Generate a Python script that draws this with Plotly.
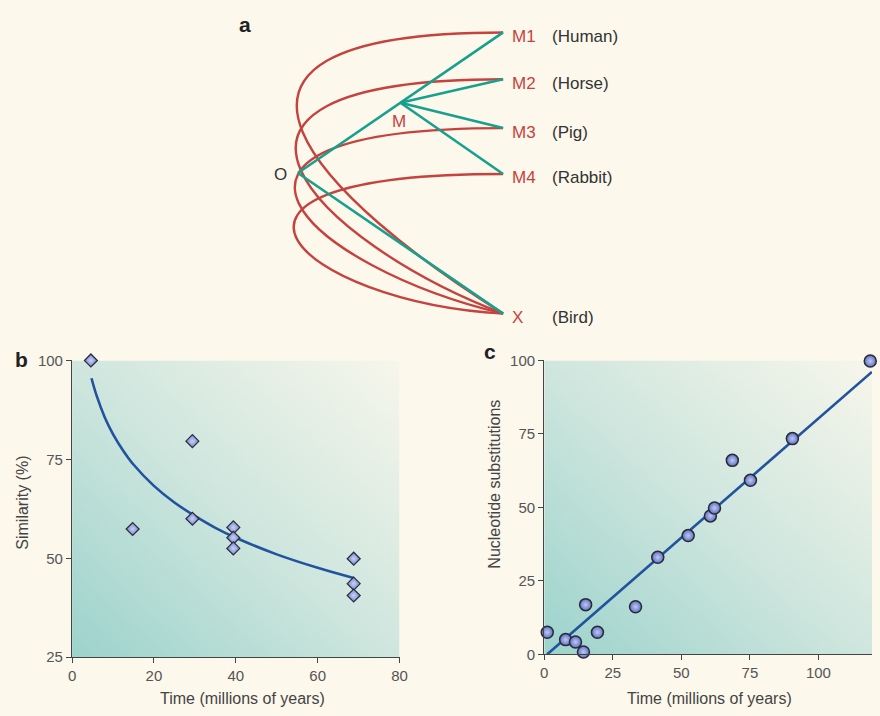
import base64
import plotly.graph_objects as go

W, H = 880, 716

# ---------------- data ----------------
# panel b: similarity vs time
b_time = [4.6, 14.8, 29.4, 29.4, 39.4, 39.4, 39.4, 68.8, 68.8, 68.8]
b_sim = [100.0, 57.4, 79.6, 60.0, 57.8, 55.2, 52.5, 49.9, 43.6, 40.6]
# fitted curve
b_fit_time = [4.75, 6, 8, 10, 12.5, 15, 20, 25, 30, 35, 40, 50, 60, 68.8]
b_fit_sim = [95.5, 91.1, 85.6, 81.4, 77.2, 73.7, 68.3, 64.1, 60.7, 57.7, 55.2, 51.0, 47.6, 45.0]

# panel c: nucleotide substitutions vs time
c_time = [1.1, 7.8, 11.4, 14.3, 15.1, 19.4, 33.3, 41.4, 52.5, 60.6, 62.1, 68.6, 75.2, 90.5, 118.9]
c_subs = [7.5, 5.0, 4.2, 0.8, 16.9, 7.5, 16.2, 33.0, 40.4, 47.1, 49.8, 66.0, 59.2, 73.4, 99.8]
c_fit_time = [1.1, 119.5]
c_fit_subs = [0.0, 96.1]

b_xticks = [0, 20, 40, 60, 80]
b_yticks = [25, 50, 75, 100]
c_xticks = [0, 25, 50, 75, 100]
c_yticks = [0, 25, 50, 75, 100]

# panel a: diagram nodes (diagram units)
node_O = (298, 168)
node_M = (402, 96)
node_X = (506, 312)
tip_x = 506
tip_y = [24, 72, 122, 169]
tip_labels = ["M1", "M2", "M3", "M4"]
tip_species = ["(Human)", "(Horse)", "(Pig)", "(Rabbit)"]
# red path control points (one per tip)
curve_c1x = [140, 145, 150, 155]
curve_c2 = [(330, 200), (320, 240), (310, 265), (300, 300)]

# ---------------- styles ----------------
CREAM = "#fdf8ec"
RED = "#c5433e"
TEAL = "#17a08d"
BLUE = "#22539e"
AXC = "#444444"
TXT = "#555555"
FONT = "Liberation Sans, Arial, sans-serif"


def px(x):
    return x / W


def py(y):
    return 1 - y / H


b_dom_x = [px(69), px(401)]
b_dom_y = [py(664), py(360)]
c_dom_x = [px(547.7), 1.0]
c_dom_y = [py(661), py(360)]
c_xmax = (W - 547.7) / 2.78

fig = go.Figure()

# panel a teal lines
tx, ty = [], []
segs = [(node_O, (tip_x, tip_y[0])), (node_M, (tip_x, tip_y[1])),
        (node_M, (tip_x, tip_y[2])), (node_M, (tip_x, tip_y[3])), (node_O, node_X)]
for a, b in segs:
    tx += [a[0], b[0], None]
    ty += [a[1], b[1], None]
fig.add_trace(go.Scatter(x=tx, y=ty, mode="lines", xaxis="x3", yaxis="y3",
                         line=dict(color=TEAL, width=2.6), hoverinfo="skip", showlegend=False))

# panel b
fig.add_trace(go.Scatter(x=b_fit_time, y=b_fit_sim, mode="lines", line=dict(color=BLUE, width=2.6, shape="spline"),
                         xaxis="x", yaxis="y", showlegend=False, hoverinfo="skip"))
fig.add_trace(go.Scatter(x=b_time, y=b_sim, mode="markers", xaxis="x", yaxis="y", showlegend=False,
                         cliponaxis=False,
                         marker=dict(symbol="diamond", size=10, color="#6f82cc",
                                     gradient=dict(type="radial", color="#c9d2f6"),
                                     line=dict(color="#2c2c38", width=1.2))))

# panel c
fig.add_trace(go.Scatter(x=c_fit_time, y=c_fit_subs, mode="lines", line=dict(color=BLUE, width=2.6),
                         xaxis="x2", yaxis="y2", showlegend=False, hoverinfo="skip"))
fig.add_trace(go.Scatter(x=c_time, y=c_subs, mode="markers", xaxis="x2", yaxis="y2", showlegend=False,
                         cliponaxis=False,
                         marker=dict(symbol="circle", size=12, color="#5e71c2",
                                     gradient=dict(type="radial", color="#bfcaf4"),
                                     line=dict(color="#2a2a36", width=1.5))))

# red curves
shapes = []
for i, y0 in enumerate(tip_y):
    c2x, c2y = curve_c2[i]
    path = f"M {tip_x},{y0} C {curve_c1x[i]},{y0} {c2x},{c2y} {node_X[0]},{node_X[1]}"
    shapes.append(dict(type="path", path=path, xref="x3", yref="y3",
                       line=dict(color=RED, width=2.4), layer="below"))

# gradient backgrounds
svg = ('<svg xmlns="http://www.w3.org/2000/svg" width="100" height="100" viewBox="0 0 100 100" '
       'preserveAspectRatio="none"><defs><linearGradient id="g" x1="0" y1="1" x2="1" y2="0">'
       '<stop offset="0" stop-color="#9cd3cc"/><stop offset="0.5" stop-color="#cfe6de"/>'
       '<stop offset="1" stop-color="#f7f6eb"/></linearGradient></defs>'
       '<rect width="100" height="100" fill="url(#g)"/></svg>')
src = "data:image/svg+xml;base64," + base64.b64encode(svg.encode()).decode()
images = []
for dx, dy in [(b_dom_x, b_dom_y), (c_dom_x, c_dom_y)]:
    images.append(dict(source=src, xref="paper", yref="paper", x=dx[0], y=dy[1],
                       sizex=dx[1] - dx[0], sizey=dy[1] - dy[0], sizing="stretch",
                       xanchor="left", yanchor="top", layer="below"))

ann = []
# panel a labels
for i, y0 in enumerate(tip_y):
    ann.append(dict(x=513, y=y0 + 4, xref="x3", yref="y3", text=tip_labels[i], showarrow=False,
                    xanchor="left", yanchor="middle", font=dict(size=17, color=RED, family=FONT)))
    ann.append(dict(x=554, y=y0 + 4, xref="x3", yref="y3", text=tip_species[i], showarrow=False,
                    xanchor="left", yanchor="middle", font=dict(size=17, color="#333333", family=FONT)))
ann.append(dict(x=513, y=node_X[1] + 4, xref="x3", yref="y3", text="X", showarrow=False,
                xanchor="left", yanchor="middle", font=dict(size=17, color=RED, family=FONT)))
ann.append(dict(x=554, y=node_X[1] + 4, xref="x3", yref="y3", text="(Bird)", showarrow=False,
                xanchor="left", yanchor="middle", font=dict(size=17, color="#333333", family=FONT)))
ann.append(dict(x=node_M[0] - 2, y=node_M[1] + 19, xref="x3", yref="y3", text="M", showarrow=False,
                xanchor="center", yanchor="middle", font=dict(size=17, color=RED, family=FONT)))
ann.append(dict(x=node_O[0] - 18, y=node_O[1] + 2, xref="x3", yref="y3", text="O", showarrow=False,
                xanchor="center", yanchor="middle", font=dict(size=17, color="#333333", family=FONT)))

# panel letters
for t, x, y in [("a", 244.5, 16), ("b", 18, 359), ("c", 493, 350.5)]:
    ann.append(dict(x=px(x), y=py(y), xref="paper", yref="paper", text=f"<b>{t}</b>", showarrow=False,
                    xanchor="center", yanchor="middle", font=dict(size=21, color="#222222", family=FONT)))

# axis titles
ann.append(dict(x=px(242), y=py(706), xref="paper", yref="paper", text="Time (millions of years)",
                showarrow=False, xanchor="center", yanchor="middle", font=dict(size=16, color="#444444", family=FONT)))
ann.append(dict(x=px(715), y=py(706), xref="paper", yref="paper", text="Time (millions of years)",
                showarrow=False, xanchor="center", yanchor="middle", font=dict(size=16, color="#444444", family=FONT)))
ann.append(dict(x=px(19), y=py(506), xref="paper", yref="paper", text="Similarity (%)", textangle=-90,
                showarrow=False, xanchor="center", yanchor="middle", font=dict(size=16, color="#444444", family=FONT)))
ann.append(dict(x=px(497), y=py(487), xref="paper", yref="paper", text="Nucleotide substitutions", textangle=-90,
                showarrow=False, xanchor="center", yanchor="middle", font=dict(size=16, color="#444444", family=FONT)))

axis_common = dict(showgrid=False, zeroline=False, showline=True, linecolor=AXC, linewidth=1.3,
                   ticks="outside", ticklen=5, tickwidth=1.3, tickcolor=AXC,
                   tickfont=dict(size=15, color=TXT, family=FONT), fixedrange=True)

fig.update_layout(
    width=W, height=H, margin=dict(l=0, r=0, t=0, b=0),
    paper_bgcolor=CREAM, plot_bgcolor="rgba(0,0,0,0)",
    showlegend=False, font=dict(family=FONT),
    xaxis=dict(domain=b_dom_x, range=[0, 80], tickvals=b_xticks, anchor="y", **axis_common),
    yaxis=dict(domain=b_dom_y, range=[25, 100], tickvals=b_yticks, anchor="x", **axis_common),
    xaxis2=dict(domain=c_dom_x, range=[0, c_xmax], tickvals=c_xticks, anchor="y2", **axis_common),
    yaxis2=dict(domain=c_dom_y, range=[0, 100], tickvals=c_yticks, anchor="x2", **axis_common),
    xaxis3=dict(domain=[px(230), px(650)], range=[230, 650], visible=False, fixedrange=True, anchor="y3"),
    yaxis3=dict(domain=[py(340), 1.0], range=[340, 0], visible=False, fixedrange=True, anchor="x3"),
    shapes=shapes, images=images, annotations=ann,
)

fig.write_html("out.html", config={"responsive": False, "displayModeBar": False},
               post_script=("document.documentElement.style.background='%s';"
                            "document.body.style.background='%s';"
                            "document.body.style.margin='0';document.body.style.overflow='hidden';"
                            % (CREAM, CREAM)))
